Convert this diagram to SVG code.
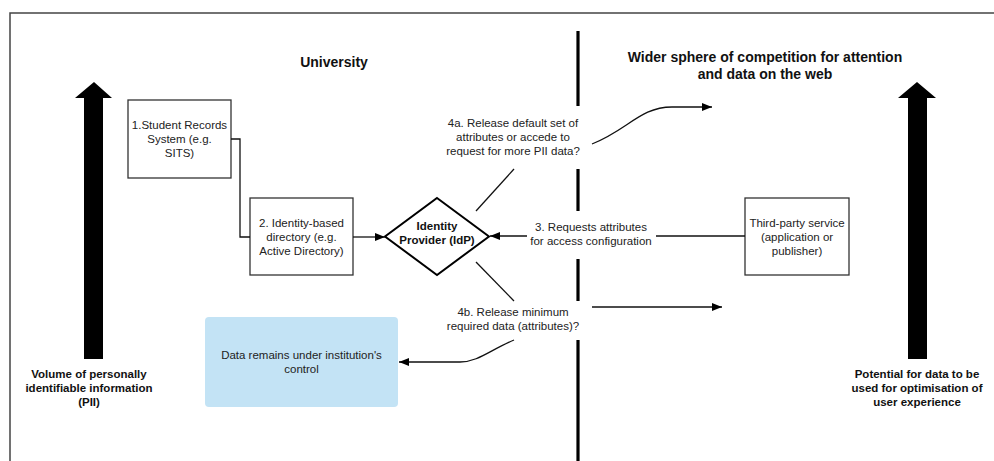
<svg xmlns="http://www.w3.org/2000/svg" width="994" height="461" viewBox="0 0 994 461">
<style>
  .t { font-family: "Liberation Sans", Arial, sans-serif; font-size: 11.5px; fill: #222; text-anchor: middle; }
  .b { font-weight: bold; fill: #111; }
  .h { font-family: "Liberation Sans", Arial, sans-serif; font-size: 14px; font-weight: bold; fill: #111; text-anchor: middle; }
  .box { fill: #fff; stroke: #333; stroke-width: 1.3; }
  .ln { fill: none; stroke: #111; stroke-width: 1.3; }
  .div { stroke: #000; stroke-width: 3.2; }
</style>
<defs>
  <marker id="ah" viewBox="0 0 10 8" refX="10" refY="4" markerWidth="10" markerHeight="8" markerUnits="userSpaceOnUse" orient="auto">
    <path d="M0,0 L10,4 L0,8 Z" fill="#000"/>
  </marker>
</defs>
<rect x="0" y="0" width="994" height="461" fill="#fff"/>
<path d="M10,461 L10,13 L994,13" fill="none" stroke="#444" stroke-width="1.5"/>

<g id="divider">
  <line class="div" x1="578" y1="31" x2="578" y2="106"/>
  <line class="div" x1="578" y1="169" x2="578" y2="211"/>
  <line class="div" x1="578" y1="259" x2="578" y2="301"/>
  <line class="div" x1="578" y1="340" x2="578" y2="461"/>
</g>

<g id="title-university"><text class="h" x="334" y="67">University</text></g>
<g id="title-wider">
  <text class="h" x="765" y="62">Wider sphere of competition for attention</text>
  <text class="h" x="765" y="79">and data on the web</text>
</g>

<g id="pii-arrow">
  <polygon points="94,82 112,98 103,98 103,359 84,359 84,98 75,98" fill="#000"/>
  <text class="t b" x="89" y="378">Volume of personally</text>
  <text class="t b" x="89" y="392">identifiable information</text>
  <text class="t b" x="89" y="406">(PII)</text>
</g>

<g id="potential-arrow">
  <polygon points="917,82 936,98 927,98 927,359 908,359 908,98 898,98" fill="#000"/>
  <text class="t b" x="917" y="378">Potential for data to be</text>
  <text class="t b" x="917" y="392">used for optimisation of</text>
  <text class="t b" x="917" y="406">user experience</text>
</g>

<g id="node-sits">
  <rect class="box" x="128" y="100" width="103" height="78"/>
  <text class="t" x="179.5" y="129">1.Student Records</text>
  <text class="t" x="179.5" y="143">System (e.g.</text>
  <text class="t" x="179.5" y="157">SITS)</text>
</g>

<g id="node-directory">
  <rect class="box" x="250" y="198" width="103" height="77"/>
  <text class="t" x="301.5" y="226.5">2. Identity-based</text>
  <text class="t" x="301.5" y="240.5">directory (e.g.</text>
  <text class="t" x="301.5" y="254.5">Active Directory)</text>
</g>

<g id="node-idp">
  <polygon points="437,198 489,236.5 437,275 385,236.5" fill="#fff" stroke="#000" stroke-width="2"/>
  <text class="t b" x="437" y="229.5">Identity</text>
  <text class="t b" x="437" y="243.5">Provider (IdP)</text>
</g>

<g id="node-thirdparty">
  <rect class="box" x="745" y="198" width="104" height="77"/>
  <text class="t" x="797" y="226.5">Third-party service</text>
  <text class="t" x="797" y="240.5">(application or</text>
  <text class="t" x="797" y="254.5">publisher)</text>
</g>

<g id="node-data-remains">
  <rect x="205" y="317" width="193" height="90" rx="4" fill="#c3e3f5"/>
  <text class="t" x="301.5" y="359">Data remains under institution's</text>
  <text class="t" x="301.5" y="373">control</text>
</g>

<g id="connectors">
  <path class="ln" d="M231,139 L240,139 L240,237 L250,237"/>
  <path class="ln" d="M353,237 L385,237" marker-end="url(#ah)"/>
  <path class="ln" d="M745,236 L656,236"/>
  <path class="ln" d="M527,236 L490,236" marker-end="url(#ah)"/>
  <path class="ln" d="M476,211 L514,169"/>
  <path class="ln" d="M592,144 C628,130 640,107 672,107 L712,107" marker-end="url(#ah)"/>
  <path class="ln" d="M476,262 L514,301"/>
  <path class="ln" d="M592,307 L722,307" marker-end="url(#ah)"/>
  <path class="ln" d="M514,340 C490,350 478,362 460,362 L399,362" marker-end="url(#ah)"/>
</g>

<g id="labels">
  <text class="t" x="513" y="127">4a. Release default set of</text>
  <text class="t" x="513" y="141">attributes or accede to</text>
  <text class="t" x="513" y="155">request for more PII data?</text>
  <text class="t" x="591" y="230.5">3. Requests attributes</text>
  <text class="t" x="591" y="244.5">for access configuration</text>
  <text class="t" x="513" y="316">4b. Release minimum</text>
  <text class="t" x="513" y="330">required data (attributes)?</text>
</g>
</svg>
